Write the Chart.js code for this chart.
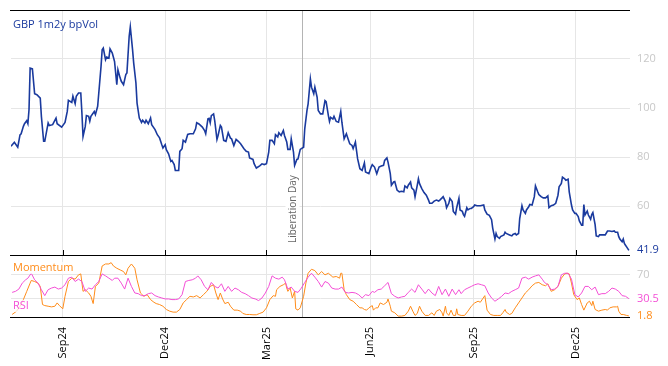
<!DOCTYPE html>
<html>
<head>
<meta charset="utf-8">
<script src="https://cdn.jsdelivr.net/npm/chart.js@4.4.1/dist/chart.umd.min.js"></script>
<style>
  html, body { margin: 0; padding: 0; background: #fff; }
  #wrap { position: relative; width: 668px; height: 366px; }
  canvas { position: absolute; left: 0; }
</style>
</head>
<body>
<div id="wrap">
  <canvas id="volChart" width="668" height="258" style="top:0"></canvas>
  <canvas id="oscChart" width="668" height="116" style="top:250px"></canvas>
</div>
<script>
// day offsets from 17 Jul 2024
const tickDays = [46, 137, 227, 319, 411, 502];
const tickLabels = ['Sep24', 'Dec24', 'Mar25', 'Jun25', 'Sep25', 'Dec25'];
const volTicks = [60, 80, 100, 120];
const oscTicks = [30, 70];
const eventDay = 259;
const eventLabel = 'Liberation Day';

const volDay = [0,3,6,8,9,11,12,14,15,16,17,19,21,23,26,27,29,30,33,34,37,40,41,45,48,50,51,54,55,57,58,60,62,63,64,66,67,69,70,71,74,75,77,78,80,81,82,84,85,87,88,90,92,93,94,95,97,98,100,102,103,105,106,108,109,111,112,114,116,117,119,120,122,124,125,128,130,132,134,135,137,138,
  140,142,143,145,146,149,150,152,153,155,157,159,162,164,165,167,170,172,173,175,176,177,178,180,181,183,184,186,187,189,191,193,195,196,198,200,202,204,207,209,211,212,215,216,218,221,223,225,227,229,230,232,234,235,237,238,240,242,243,245,246,248,249,251,252,254,255,257,258,260,261,263,264,266,267,269,270,272,273,275,
  277,279,280,282,283,284,286,287,289,291,293,294,296,298,299,301,303,304,306,308,310,312,314,315,318,320,321,323,325,327,329,331,332,334,335,337,338,340,341,343,345,347,349,350,352,353,355,356,358,359,361,362,363,365,367,369,371,372,374,376,378,380,381,383,384,386,387,389,390,392,393,395,396,398,399,401,402,403,405,406,408,409,411,412,414,
  417,420,421,423,425,427,428,430,431,432,434,435,438,439,440,443,445,446,448,449,451,452,454,455,457,458,460,461,463,465,466,468,469,471,473,475,477,478,480,482,484,486,487,489,490,492,493,495,496,498,499,501,502,504,505,507,508,509,510,512,513,515,516,517,519,520,522,523,526,528,530,532,534,536,537,539,540,541,543,544,545,546,547,549];
const vol = [84.4,86,84,89,89.5,92.5,93.6,94.8,93.6,99.3,116.3,116,105.8,105.4,104,96.6,86.4,86.4,93.9,92.8,93.2,95.9,93.6,92.2,94.1,98.6,103.1,102.3,104.8,101.8,104.8,106.1,106.1,98,88.4,92.5,96.9,96.6,94.6,96.6,98.6,97.3,100.7,106.1,117,123.8,124.5,119.7,120.8,120.4,124.1,122.4,119,114.3,109.5,115.6,112.2,110.9,109.5,113.6,114.3,129.3,133.1,123.8,118.4,110.2,102,95.9,94.1,95,93.9,95,93.6,95.9,93.2,91.2,89.1,87.8,85,83.7,85,83,
  81.3,78.2,78.6,76.9,74.5,74.5,82.3,83.4,86.8,86.1,89.2,89.5,89.5,91.5,94,93.5,92.2,90.8,89.5,95.6,95.8,94,96.9,97.6,94.9,87.2,88.8,92.9,92.2,86.8,86.4,89.9,87.7,87.4,84.7,87.2,86.4,85.4,83.4,82.3,82,79.6,79,77.3,75.5,76.4,77.2,76.9,77.3,82,86.8,86.8,85.4,89.1,88.2,89.9,88.8,90.8,88.8,86.1,83.1,83.1,87.4,82,76.6,79,79.2,83.1,83.4,84,91.5,99,101.7,111.9,108.5,105.8,108.5,104.4,99,97.6,
  97.6,103,102.6,96.9,94.5,96.2,95.5,96.6,94.5,94.2,98.6,94.2,87.4,89.5,88.1,85.4,84.7,83.4,86.1,79.2,75.2,74.5,77.6,73.9,73.2,75.9,76.9,75.9,73.2,75.9,76.3,76.6,78.6,79.6,77.9,73.2,68.5,69.8,70,66.5,65.8,66,65.8,68.2,67.4,68.5,69.8,67.4,66.5,63.8,68.5,71.1,69.1,67.1,65.5,64.4,62.4,61.1,61.1,62,62.4,62,62.4,63.3,63.8,61.8,59.3,61.1,63.1,61.8,57.8,56.7,59.3,63.1,58.4,57.8,56.5,55.8,59.3,58.4,59,59,59.7,60.4,60.1,
  60.1,60.4,58.4,56.7,56.2,54.4,51,46.5,48.8,47.5,46.8,47.5,48.2,49.3,48.8,48.2,47.8,48.4,48.8,48.2,48.8,54.9,60.1,58.4,57,58.4,59.7,60.6,60.4,63.8,68.2,65.8,64.7,63.8,63.3,63.3,64.1,59.3,60.1,60.4,61.1,64.4,67.8,69.2,71.8,71.1,70.5,70.9,65.8,60.4,58.4,57,57,55.7,53.9,52.2,52.2,60.6,56.3,57.9,56.3,54.6,56.5,57.3,52.4,47.8,47.5,48.2,48.2,48.2,49.8,49.8,49.6,49.8,49.3,49.3,47.5,46.5,45.4,46.5,44.7,44,43.3,41.9];

const rsiDay = [1,4,7,10,13,15,18,21,24,27,30,33,36,39,42,45,48,51,54,57,60,63,66,69,72,75,78,81,84,87,90,92,95,98,101,104,107,110,113,116,119,122,125,128,131,134,137,140,143,146,149,152,155,158,161,164,166,169,172,175,178,181,184,187,190,193,196,199,202,205,208,211,214,217,220,223,226,229,232,235,238,241,243,246,249,252,255,258,261,264,267,270,273,276,279,282,
  285,288,291,294,297,300,303,306,309,312,315,318,321,323,326,329,332,335,338,341,344,347,350,353,356,359,362,365,368,371,374,377,380,383,386,389,392,395,398,400,403,406,409,412,415,418,421,424,427,430,433,436,439,442,445,448,451,454,457,460,463,466,469,472,474,477,480,483,486,489,492,495,498,501,504,507,510,513,516,519,522,525,528,531,534,537,540,543,546,549];
const rsi = [40.9,42.6,46.4,56.3,61.8,64.5,72.7,61.8,56.3,45.3,35.5,45.3,48.1,49.7,46.4,48.1,53.6,64.5,66.2,59,62.9,59,42.6,48.1,46.4,53.6,59,71.6,68.3,64.5,60.7,64.5,64.5,56.3,46.4,64.5,50.8,39.9,38.8,35.5,35.5,38.8,39.9,35.5,33.3,31.6,30,30,28.9,28.9,30,37.1,59,60.7,61.8,64.5,68.3,61.8,50.8,45.3,57.4,50.8,48.1,55.2,42.6,50.8,42.6,48.1,45.3,40.9,38.8,35.5,31.6,30,27.3,31.6,39.9,50.8,68.3,64.5,62.9,66.2,61.8,46.4,49.7,42.6,40.9,48.1,57.4,66.2,72.7,66.2,59,49.7,59,56.3,
  48.1,46.4,46.4,49.7,40.9,39.9,40.9,39.9,37,31.6,37.1,35.5,42.6,40.9,45.3,46.4,51.9,57.4,38.8,34.4,31.6,33.3,34.4,40.9,46.4,40.9,53.6,46.4,38.8,46.4,39.9,35.5,50.8,37.1,46.4,34.4,46.4,37.1,45.3,38.8,45.3,48.1,50.8,53.6,55.2,53.6,51.9,39.9,31.6,26.2,30,34.4,39.9,38.8,42.6,45.3,48.1,64.5,66.2,62.9,66.2,68.3,70,62.9,57.4,53.6,45.3,46.4,50.8,70,72.7,72.7,62.9,37.1,33.3,39.9,50.8,50.8,45.3,49.7,37.1,38.8,38.8,42.6,48.1,46.4,42.6,35.5,34.4,30.5];

const momDay = [1,5,8,11,14,17,18,21,24,26,28,30,33,36,39,41,43,46,48,51,54,57,60,62,64,66,69,71,73,75,78,81,84,87,89,91,94,97,100,102,104,107,110,112,115,118,121,124,127,129,132,135,138,141,144,147,150,153,156,159,162,165,168,171,174,177,180,182,184,186,188,190,193,195,198,201,204,206,209,212,215,218,221,224,227,230,233,235,236,239,242,244,245,246,248,250,252,253,255,257,260,262,264,267,270,273,276,279,282,
  286,289,292,293,294,296,298,301,304,307,310,312,314,316,318,321,322,324,326,328,331,334,335,337,338,341,344,347,350,353,355,357,359,361,363,365,368,371,374,376,378,381,383,384,386,387,389,391,393,395,396,397,400,403,406,409,412,415,417,419,421,422,423,426,429,432,435,437,439,440,443,445,448,451,454,457,460,463,466,469,472,475,477,478,480,483,486,489,492,494,496,498,500,503,505,507,509,512,514,516,517,519,522,525,528,530,532,535,538,539,540,542,544,547,549];
const mom = [4.2,9.7,17.9,28.9,42.6,56.3,60.7,59,56.3,50.8,20.7,19,17.9,16.8,17.9,23.4,19,13.6,34.4,59,64.5,62.9,70,71.6,42.6,45.3,39.9,34.4,22.3,50.8,56.3,84.8,88.1,88.1,90.3,84.8,81,78.2,75.5,70,81,88.1,81,61.8,39.9,34.4,37.1,28.9,24.5,22.3,20.7,17.9,12.5,9.7,8.1,8.1,12.5,23.4,28.9,34.4,33.3,35.5,31.6,37.1,42.6,50.8,53.6,39.9,28.9,39.9,30,22.3,24.5,17.9,11.4,11.4,9.7,5.9,4.2,4.2,3.7,3.7,5.9,8.1,15.2,28.9,35.5,34.4,45.3,50.8,53.6,56.3,48.1,42.6,48.1,31.6,42.6,13.6,11.4,15.2,34.4,56.3,72.7,79.3,77.1,70,75.5,70,72.7,
  66.2,67.3,64.5,72.7,72.7,45.3,37.1,28.9,26.2,20.7,15.2,15.2,12.5,11.4,15.2,19,11.4,15.2,15.2,23.4,20.7,24.5,30,17.9,9.7,7,1.5,1.5,2.6,9.7,17.9,9.7,2.6,5.9,17.9,9.7,2.6,2.6,7,2.6,9.7,12.5,7,1.5,17.9,7,2.6,11.4,2.6,2.6,13.6,4.2,2.6,2.6,9.7,17.9,23.4,26.2,24.5,30,35.5,23.4,11.4,4.2,2.6,2.6,2.6,7,12.5,8.1,4.2,5.9,15.2,23.4,31.6,39.9,45.3,51.9,56.3,57.4,53.6,51.9,55.2,50.8,42.6,45.3,50.8,64.5,71.6,72.7,71.6,56.3,37.1,28.9,31.6,20.7,11.4,23.4,26.2,19,26.2,12.5,9.7,11.4,12.5,11.4,15.2,16.8,16.8,17.9,9.7,4.2,4.2,2.6,1.8];

const BLUE = '#1a3a9e';
const ORANGE = '#ff8c1a';
const PINK = '#f44fd6';
const GRID = '#e6e6e6';
const AXIS_TEXT = '#c8c8c8';
const FONT = "'Open Sans', sans-serif";

const toPoints = (days, vals) => days.map((d, i) => ({ x: d, y: vals[i] }));
const monthTicks = scale => { scale.ticks = tickDays.map(v => ({ value: v })); };

function eventLine(chart) {
    const ctx = chart.ctx;
    const a = chart.chartArea;
    const x = Math.round(chart.scales.x.getPixelForValue(eventDay)) + 0.5;
    ctx.save();
    ctx.strokeStyle = '#b4b4b4';
    ctx.lineWidth = 1;
    ctx.beginPath();
    ctx.moveTo(x, a.top);
    ctx.lineTo(x, a.bottom);
    ctx.stroke();
    ctx.restore();
    return x;
}

function frame(chart) {
    const ctx = chart.ctx;
    const a = chart.chartArea;
    ctx.save();
    ctx.strokeStyle = '#000';
    ctx.lineWidth = 1;
    ctx.beginPath();
    ctx.moveTo(a.left - 1, a.top + 0.5);
    ctx.lineTo(a.right, a.top + 0.5);
    ctx.moveTo(a.left - 1, a.bottom + 0.5);
    ctx.lineTo(a.right, a.bottom + 0.5);
    ctx.stroke();
    ctx.restore();
}

function rightLabel(chart, text, value, color) {
    const ctx = chart.ctx;
    ctx.save();
    ctx.font = '11px ' + FONT;
    ctx.fillStyle = color;
    ctx.textBaseline = 'middle';
    ctx.fillText(text, chart.chartArea.right + 7, chart.scales.y.getPixelForValue(value));
    ctx.restore();
}

const volDecor = {
    id: 'volDecor',
    beforeDatasetsDraw(chart) {
        const ctx = chart.ctx;
        const x = eventLine(chart);
        const base = chart.chartArea.bottom - 12;
        ctx.save();
        ctx.font = '10px ' + FONT;
        const w = ctx.measureText(eventLabel).width;
        ctx.fillStyle = '#fff';
        ctx.fillRect(x - 17, base - w - 2, 14, w + 4);
        ctx.translate(x - 7, base);
        ctx.rotate(-Math.PI / 2);
        ctx.fillStyle = '#666';
        ctx.textBaseline = 'alphabetic';
        ctx.fillText(eventLabel, 0, 0);
        ctx.restore();
    },
    afterDraw(chart) {
        const ctx = chart.ctx;
        const a = chart.chartArea;
        frame(chart);
        ctx.save();
        ctx.strokeStyle = '#000';
        ctx.beginPath();
        tickDays.forEach(d => {
            const x = Math.round(chart.scales.x.getPixelForValue(d)) + 0.5;
            ctx.moveTo(x, a.bottom - 5);
            ctx.lineTo(x, a.bottom);
        });
        ctx.stroke();
        ctx.font = '11px ' + FONT;
        ctx.fillStyle = BLUE;
        ctx.textBaseline = 'middle';
        ctx.fillText('GBP 1m2y bpVol', a.left + 2, a.top + 15);
        ctx.restore();
        volTicks.forEach(v => rightLabel(chart, String(v), v, AXIS_TEXT));
        rightLabel(chart, String(vol[vol.length - 1]), vol[vol.length - 1], BLUE);
    }
};

const oscDecor = {
    id: 'oscDecor',
    beforeDatasetsDraw(chart) {
        eventLine(chart);
    },
    afterDraw(chart) {
        const ctx = chart.ctx;
        const a = chart.chartArea;
        frame(chart);
        ctx.save();
        ctx.font = '11px ' + FONT;
        ctx.textBaseline = 'middle';
        [['Momentum', ORANGE, a.top + 13], ['RSI', PINK, a.top + 51]].forEach(([t, c, y]) => {
            const w = ctx.measureText(t).width;
            ctx.fillStyle = 'rgba(255,255,255,0.75)';
            ctx.fillRect(a.left + 1, y - 6, w + 3, 12);
            ctx.fillStyle = c;
            ctx.fillText(t, a.left + 2, y);
        });
        ctx.restore();
        rightLabel(chart, '70', 70, AXIS_TEXT);
        rightLabel(chart, String(rsi[rsi.length - 1]), rsi[rsi.length - 1], PINK);
        rightLabel(chart, String(mom[mom.length - 1]), mom[mom.length - 1], ORANGE);
    }
};

new Chart(document.getElementById('volChart'), {
    type: 'line',
    data: {
        datasets: [{
            data: toPoints(volDay, vol),
            borderColor: BLUE,
            borderWidth: 1.6,
            pointRadius: 0,
            tension: 0
        }]
    },
    options: {
        responsive: false,
        animation: false,
        layout: { padding: { left: 11, top: 10, right: 0, bottom: 0 } },
        plugins: { legend: { display: false }, tooltip: { enabled: false } },
        scales: {
            x: {
                type: 'linear', min: 0, max: 550,
                afterBuildTicks: monthTicks,
                ticks: { display: false },
                grid: { color: GRID, drawTicks: false },
                border: { display: false },
                afterFit: s => { s.height = 3; }
            },
            y: {
                position: 'right', min: 40, max: 140,
                afterBuildTicks: s => { s.ticks = volTicks.map(v => ({ value: v })); },
                ticks: { display: false },
                grid: { color: GRID, drawTicks: false },
                border: { display: false },
                afterFit: s => { s.width = 38; }
            }
        }
    },
    plugins: [volDecor]
});

new Chart(document.getElementById('oscChart'), {
    type: 'line',
    data: {
        datasets: [{
            data: toPoints(rsiDay, rsi),
            borderColor: PINK,
            borderWidth: 1,
            pointRadius: 0,
            tension: 0
        }, {
            data: toPoints(momDay, mom),
            borderColor: ORANGE,
            borderWidth: 1,
            pointRadius: 0,
            tension: 0
        }]
    },
    options: {
        responsive: false,
        animation: false,
        layout: { padding: { left: 11, top: 5, right: 0, bottom: 0 } },
        plugins: { legend: { display: false }, tooltip: { enabled: false } },
        scales: {
            x: {
                type: 'linear', min: 0, max: 550,
                afterBuildTicks: monthTicks,
                ticks: {
                    color: '#000', padding: 10, autoSkip: false,
                    minRotation: 90, maxRotation: 90,
                    font: { family: FONT, size: 11 },
                    callback: (v, i) => tickLabels[i]
                },
                grid: { color: GRID, drawTicks: false },
                border: { display: false },
                afterFit: s => { s.height = 49; }
            },
            y: {
                position: 'right', min: 0, max: 103,
                afterBuildTicks: s => { s.ticks = oscTicks.map(v => ({ value: v })); },
                ticks: { display: false },
                grid: { color: GRID, drawTicks: false },
                border: { display: false },
                afterFit: s => { s.width = 38; }
            }
        }
    },
    plugins: [oscDecor]
});
</script>
</body>
</html>
